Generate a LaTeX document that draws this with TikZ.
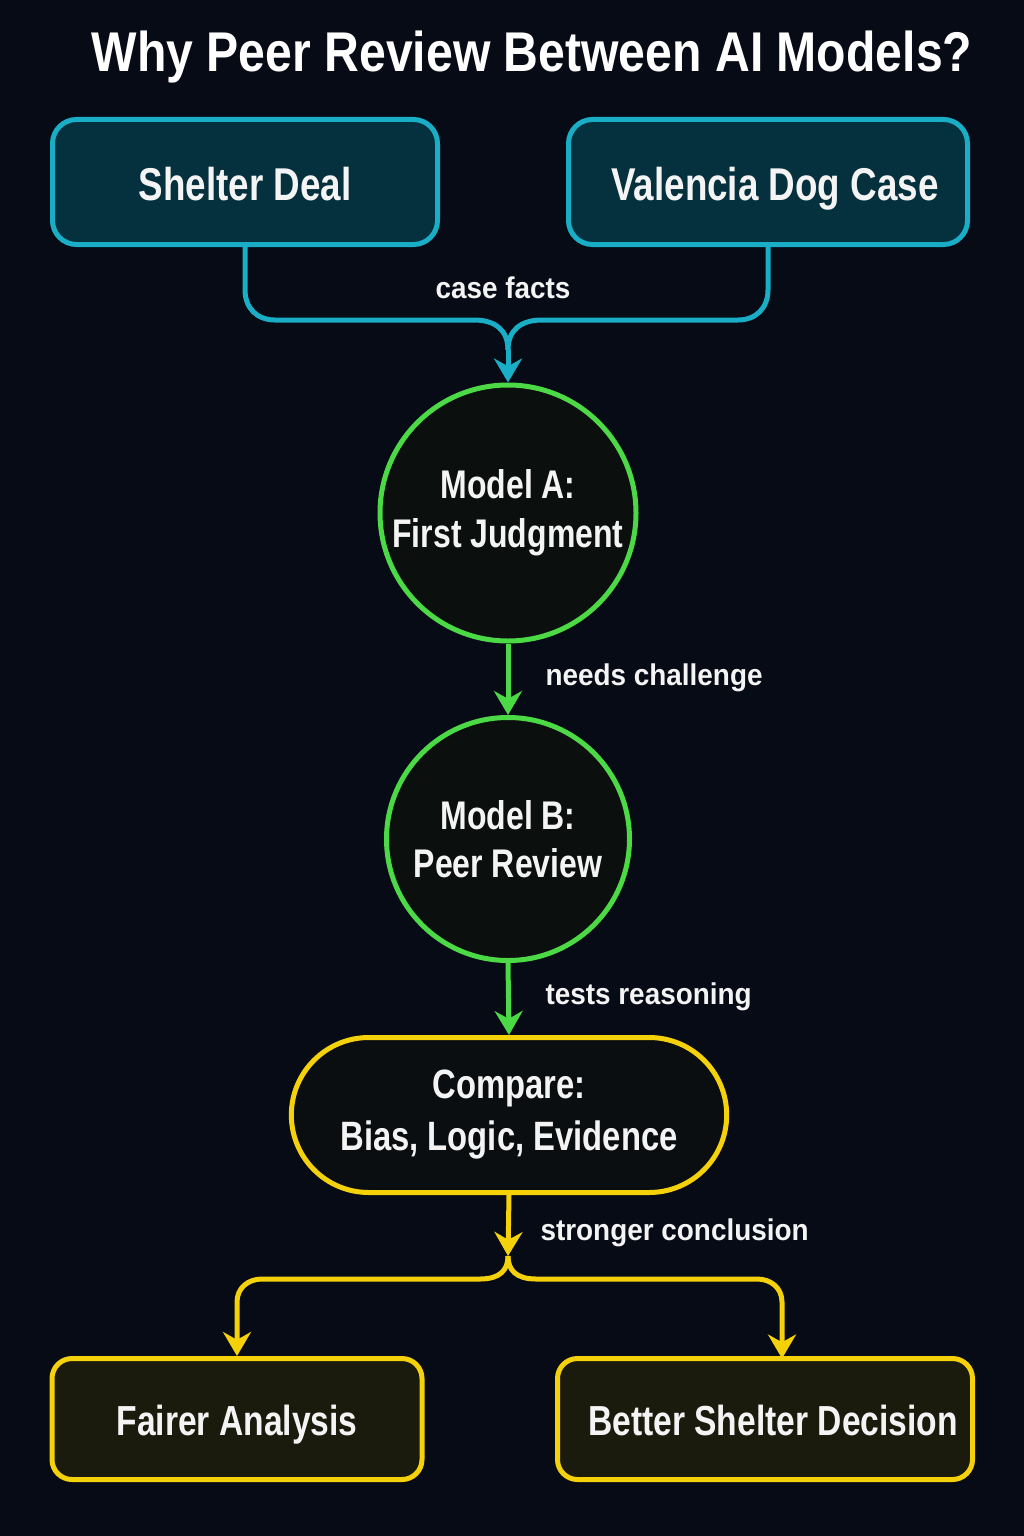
\documentclass[tikz,border=0pt]{standalone}
\usepackage{fontspec}
\usetikzlibrary{arrows.meta,shapes.misc}
\newfontfamily\titlefont{Liberation Sans Bold}[FakeStretch=0.86]
\newfontfamily\boxfont{Liberation Sans Bold}[FakeStretch=0.8]
\newfontfamily\labelfont{Liberation Sans Bold}[FakeStretch=0.93]
\definecolor{bgnavy}{HTML}{070B15}
\definecolor{cyanline}{HTML}{1AAEC6}
\definecolor{tealfill}{HTML}{05303D}
\definecolor{greenline}{HTML}{4CD946}
\definecolor{circfill}{HTML}{0B0F0E}
\definecolor{yellowline}{HTML}{F5D10A}
\definecolor{cmpfill}{HTML}{0B0E10}
\definecolor{olivefill}{HTML}{1B1B0D}
\definecolor{offwhite}{HTML}{F4F4F4}
\begin{document}
\begin{tikzpicture}[x=1pt,y=-1pt,
		inbox/.style={draw=cyanline, fill=tealfill, line width=5pt, rounded corners=24pt, text=offwhite, text height=37pt, text depth=0pt, font=\boxfont\fontsize{46}{50}\selectfont},
		model/.style={circle, draw=greenline, fill=circfill, line width=5pt, text=offwhite, align=center, inner sep=0pt},
		outbox/.style={draw=yellowline, fill=olivefill, line width=5pt, rounded corners=20pt, text=offwhite, text height=32pt, text depth=0pt, font=\boxfont\fontsize{42}{46}\selectfont},
		edgelabel/.style={text=offwhite, anchor=west, font=\labelfont\fontsize{30}{34}\selectfont},
		arrowline/.style={line width=5pt, -{Stealth[length=24pt,width=28pt]}}
	]
	\fill[bgnavy] (0,0) rectangle (1024,1536);
	\node[text=white, font=\titlefont\fontsize{56}{60}\selectfont] (title) at (532,57) {Why Peer Review Between AI Models?};

	\node[inbox, minimum width=385pt, minimum height=125pt] (shelter) at (245,182) {Shelter Deal};
	\node[inbox, minimum width=399pt, minimum height=125pt] (valencia) at (768,182) {\hspace*{14pt}Valencia Dog Case};
	\coordinate (facts) at (508,350);
	\draw[cyanline, line width=5pt] (shelter.south) -- (245,290) .. controls (245,308) and (257,320) .. (275,320) -- (474,320) .. controls (495,320) and (508,330) .. (facts);
	\draw[cyanline, line width=5pt] (valencia.south) -- (768,290) .. controls (768,308) and (756,320) .. (738,320) -- (542,320) .. controls (521,320) and (508,330) .. (facts);
	\node[edgelabel, anchor=center] (factslabel) at (503,288) {case facts};

	\node[model, minimum size=256pt, font=\boxfont\fontsize{40}{49}\selectfont] (modela) at (508,513) {Model A:\\First Judgment};
	\draw[cyanline, arrowline] (facts) -- (modela.north);

	\node[model, minimum size=243pt, font=\boxfont\fontsize{40}{48}\selectfont] (modelb) at (508,839) {Model B:\\Peer Review};
	\draw[greenline, arrowline] (modela.south) -- (modelb.north);
	\node[edgelabel] (challenge) at (542,678) {needs challenge};

	\node[rounded rectangle, draw=yellowline, fill=cmpfill, line width=5pt, minimum width=442pt, minimum height=155pt, text=offwhite, align=center, font=\boxfont\fontsize{41}{52}\selectfont] (compare) at (509,1115) {Compare:\\Bias, Logic, Evidence};
	\draw[greenline, arrowline] (modelb.south) -- (compare.north);
	\node[edgelabel] (reasoning) at (542,997) {tests reasoning};

	\coordinate (split) at (508,1256);
	\draw[yellowline, arrowline] (compare.south) -- (split);
	\node[edgelabel] (stronger) at (537,1233) {stronger conclusion};

	\node[outbox, minimum width=370pt, minimum height=121pt] (fairer) at (237,1419) {Fairer Analysis};
	\node[outbox, minimum width=415pt, minimum height=121pt] (better) at (765,1419) {\hspace*{16pt}Better Shelter Decision};
	\draw[yellowline, arrowline] (split) .. controls (508,1270) and (500,1279) .. (480,1279) -- (262,1279) .. controls (248,1279) and (237,1288) .. (237,1302) -- (fairer.north);
	\draw[yellowline, arrowline] (split) .. controls (508,1270) and (516,1279) .. (536,1279) -- (757,1279) .. controls (771,1279) and (782,1288) .. (782,1302) -- (782,1358.5);
\end{tikzpicture}
\end{document}
